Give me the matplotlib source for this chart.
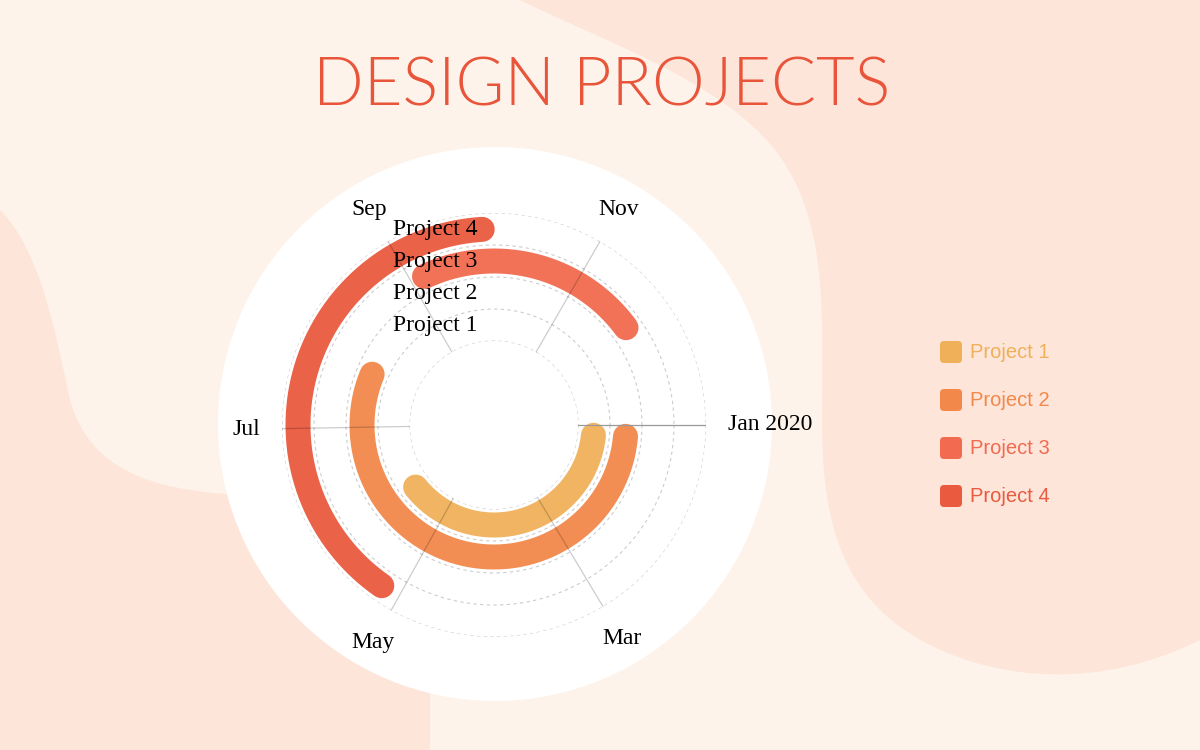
import numpy as np
import pandas as pd
import matplotlib.pyplot as plt
from matplotlib.path import Path
from matplotlib.patches import PathPatch, Circle, FancyBboxPatch

# --- dados ---
projects = ['Project 1', 'Project 2', 'Project 3', 'Project 4']
start_dates = ['2020-01-07', '2020-01-06', '2020-09-06', '2020-05-07']
end_dates = ['2020-05-24', '2020-07-25', '2020-11-25', '2020-09-28']
colors = ['#F0B05A', '#F2884A', '#F26A4F', '#E95A3E']
tick_dates = ['2020-01-01', '2020-03-01', '2020-05-01', '2020-07-01', '2020-09-01', '2020-11-01']
tick_labels = ['Jan 2020', 'Mar', 'May', 'Jul', 'Sep', 'Nov']

year_start = pd.Timestamp('2020-01-01')
year_days = (pd.Timestamp('2021-01-01') - year_start).days


def to_angle(d):
    return (pd.Timestamp(d) - year_start).days / year_days * 2 * np.pi


W, H = 1200, 750
fig = plt.figure(figsize=(12, 7.5), dpi=100)
fig.patch.set_facecolor('#FEF3EA')

# --- fundo (formas) ---
bg = fig.add_axes([0, 0, 1, 1], zorder=0)
bg.set_xlim(0, W)
bg.set_ylim(H, 0)
bg.axis('off')

C, L, M = Path.CURVE4, Path.LINETO, Path.MOVETO
right_verts = [(520, 0), (600, 40), (720, 80), (775, 150),
               (830, 220), (822, 320), (822, 420),
               (822, 520), (840, 600), (930, 645),
               (1000, 680), (1100, 690), (1200, 640),
               (1200, 0), (520, 0)]
right_codes = [M, C, C, C, C, C, C, C, C, C, C, C, C, L, L]
bg.add_patch(PathPatch(Path(right_verts, right_codes), fc='#FDE5DA', ec='none'))

left_verts = [(0, 210), (40, 250), (55, 330), (70, 400),
              (90, 470), (150, 490), (240, 495),
              (300, 500), (430, 690), (430, 750), (0, 750), (0, 210)]
left_codes = [M, C, C, C, C, C, C, L, L, L, L, L]
bg.add_patch(PathPatch(Path(left_verts, left_codes), fc='#FDE5DA', ec='none'))

bg.add_patch(Circle((495, 424), 277, fc='white', ec='none'))

# --- gráfico radial ---
cx, cy, R = 494, 425, 212
ax = fig.add_axes([(cx - R) / W, (H - cy - R) / H, 2 * R / W, 2 * R / H],
                  projection='polar', zorder=2)
ax.set_facecolor('none')
ax.set_theta_zero_location('E')
ax.set_theta_direction(-1)
r_origin = -2.625
ax.set_ylim(0, 4)
ax.set_rorigin(r_origin)
ax.grid(False)
ax.set_xticks([])
ax.set_yticks([])
for s in ax.spines.values():
    s.set_visible(False)
    s.set_edgecolor('none')  # o polar reativa o spine interno no draw

# grade: círculos tracejados e raios
full = np.linspace(0, 2 * np.pi, 400)
for r in range(len(projects) + 1):
    ax.plot(full, np.full_like(full, r), color='#cccccc', lw=0.8,
            linestyle=(0, (3, 3)), zorder=0.5)

tick_angles = [to_angle(d) for d in tick_dates]

for i, (p, s, e, c) in enumerate(zip(projects, start_dates, end_dates, colors)):
    th = np.linspace(to_angle(s), to_angle(e), 300)
    ax.plot(th, np.full_like(th, i + 0.5), color=c, lw=18,
            solid_capstyle='round', alpha=0.95, zorder=1)

for k, a in enumerate(tick_angles):
    col = '#999999' if k == 0 else '#000000'
    alp = 1.0 if k == 0 else 0.2
    ax.plot([a, a], [0, len(projects)], color=col, alpha=alp, lw=0.9, zorder=2)

for i, p in enumerate(projects):
    ax.annotate(p, xy=(3 * np.pi / 2, i + 0.5), xytext=(-101, 0),
                textcoords='offset pixels', ha='left', va='center',
                fontsize=17, family='Liberation Serif', color='black',
                zorder=5, annotation_clip=False)


def px_to_r(px):
    return r_origin + px / R * (4 - r_origin)


for a, lab in zip(tick_angles, tick_labels):
    cosv = np.cos(a)
    if abs(cosv) > 0.95:
        ha = 'left' if cosv > 0 else 'right'
        rr = px_to_r(234)
    else:
        ha = 'center'
        rr = px_to_r(249)
    ax.text(a, rr, lab, ha=ha, va='center', fontsize=17,
            family='Liberation Serif', color='black', clip_on=False)

# --- título ---
fig.text(601.5 / W, 1 - 105 / H, 'DESIGN PROJECTS', ha='center', va='baseline',
         fontsize=48, family='Lato', fontweight=300, color='#E8553A')

# --- legenda ---
leg_y = [352, 400, 448, 496]
for p, c, y in zip(projects, colors, leg_y):
    bg.add_patch(FancyBboxPatch((940, y - 11), 22, 22,
                                boxstyle='round,pad=0,rounding_size=4',
                                fc=c, ec='none'))
    bg.text(970, y, p, ha='left', va='center', fontsize=14.5,
            family='Liberation Sans', color=c)

fig.savefig('out.png', dpi=100)
